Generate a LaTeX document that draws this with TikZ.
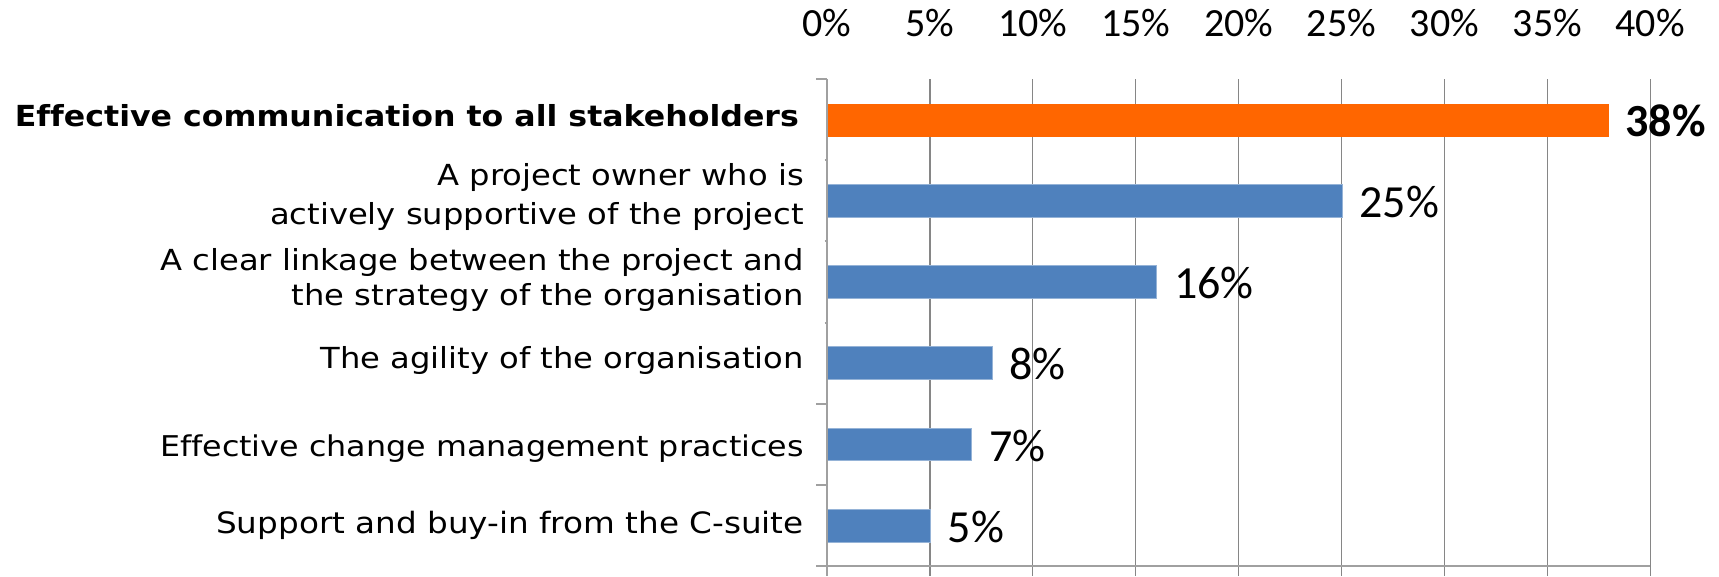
\documentclass[tikz,border=0pt]{standalone}
\usepackage{fontspec}
\setmainfont{DejaVu Sans}
\newfontfamily\catfont[Ligatures=NoCommon,FakeStretch=1.11,BoldFeatures={FakeStretch=1.09}]{DejaVu Sans}
\newfontfamily\calibri{Carlito}
\definecolor{gridgray}{RGB}{134,134,134}
\definecolor{axisgray}{RGB}{160,160,160}
\definecolor{barblue}{RGB}{79,129,189}
\definecolor{baredge}{RGB}{149,179,215}
\definecolor{barorange}{RGB}{255,102,0}
\begin{document}
\begin{tikzpicture}[x=1pt,y=-1pt,
  gridline/.style={draw=gridgray,line width=1.3pt},
  axisline/.style={draw=axisgray,line width=2pt},
  bluebar/.style={rectangle,fill=barblue,draw=baredge,line width=0.8pt,anchor=west,minimum height=32.7pt,inner sep=0pt},
  orangebar/.style={rectangle,fill=barorange,anchor=west,minimum height=32.7pt,inner sep=0pt},
  ticklbl/.style={font=\calibri\fontsize{40}{48}\selectfont,anchor=base,inner sep=0pt},
  vallbl/.style={font=\calibri\fontsize{46}{55}\selectfont,anchor=base west,inner sep=0pt},
  catlbl/.style={font=\catfont\fontsize{29}{37}\selectfont,align=right,anchor=base east,inner sep=0pt},
]
\useasboundingbox (0,0) rectangle (1719,576);
% gridlines and axis labels
\foreach \i in {1,...,8}{
  \coordinate (gt\i) at ({827+102.9*\i},79);
  \coordinate (gb\i) at ({827+102.9*\i},576);
  \draw[gridline] (gt\i) -- (gb\i);
}
\foreach \i/\t in {0/0,1/5,2/10,3/15,4/20,5/25,6/30,7/35,8/40}{
  \node[ticklbl] (tl\i) at ({827+102.9*\i},36.7) {\t\%};
}
% bars
\node[orangebar,minimum width={38*20.58pt}] (b1) at (827,120.3) {};
\node[bluebar,minimum width={25*20.58pt}] (b2) at (827,200.9) {};
\node[bluebar,minimum width={16*20.58pt}] (b3) at (827,282.1) {};
\node[bluebar,minimum width={8*20.58pt}] (b4) at (827,363.2) {};
\node[bluebar,minimum width={7*20.58pt}] (b5) at (827,444.4) {};
\node[bluebar,minimum width={5*20.58pt}] (b6) at (827,525.6) {};
% value labels
\node[vallbl,font=\calibri\bfseries\fontsize{46}{55}\selectfont] (v1) at ([xshift=16pt]b1.south east) {38\%};
\node[vallbl] (v2) at ([xshift=17pt]b2.south east) {25\%};
\node[vallbl] (v3) at ([xshift=17pt]b3.south east) {16\%};
\node[vallbl] (v4) at ([xshift=17pt]b4.south east) {8\%};
\node[vallbl] (v5) at ([xshift=17pt]b5.south east) {7\%};
\node[vallbl] (v6) at ([xshift=17pt]b6.south east) {5\%};
% axes
\coordinate (ax0) at (827,79);
\coordinate (ax1) at (827,576);
\coordinate (hx0) at (816,566);
\coordinate (hx1) at (1650.2,566);
\draw[axisline] (ax0) -- (ax1);
\draw[axisline] (hx0) -- (hx1);
\foreach \k/\l in {0/11,1/2.5,2/2.5,3/2.5,4/11,5/11}{
  \coordinate (tk\k a) at ({827-\l},{79+81.17*\k});
  \coordinate (tk\k b) at (827,{79+81.17*\k});
  \draw[axisline] (tk\k a) -- (tk\k b);
}
% category labels
\node[catlbl,font=\catfont\bfseries\fontsize{29}{37}\selectfont] (c1) at (799,126.7) {Effective communication to all stakeholders};
\begin{scope}
\clip (0,79) rectangle (826,231);
\node[catlbl,font=\catfont\fontsize{29}{39}\selectfont] (c2) at (804,224) {A project owner who is\\actively supportive of the project};
\end{scope}
\node[catlbl,font=\catfont\fontsize{29}{35}\selectfont] (c3) at (804,305) {A clear linkage between the project and\\the strategy of the organisation};
\node[catlbl] (c4) at (804,368) {The agility of the organisation};
\node[catlbl,font=\catfont\fontsize{28.6}{37}\selectfont] (c5) at (804,456.7) {Effective change management practices};
\node[catlbl,font=\catfont\fontsize{29.4}{37}\selectfont] (c6) at (804,533.3) {Support and buy-in from the C-suite};
\end{tikzpicture}
\end{document}
